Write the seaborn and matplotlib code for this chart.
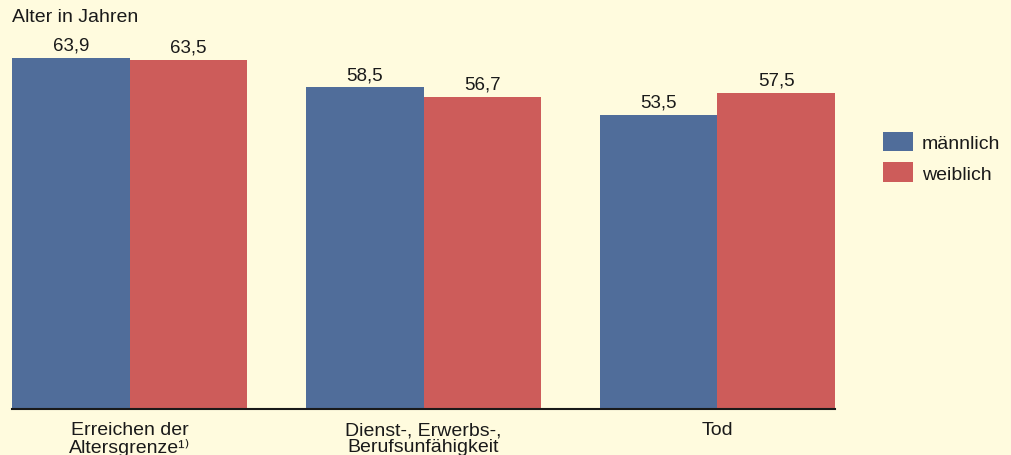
import matplotlib
matplotlib.use("Agg")
import matplotlib.pyplot as plt
import seaborn as sns
import pandas as pd
from matplotlib.patches import Patch

categories = ["Erreichen der\nAltersgrenze¹⁾", "Dienst-, Erwerbs-,\nBerufsunfähigkeit", "Tod"]
maennlich = [63.9, 58.5, 53.5]
weiblich = [63.5, 56.7, 57.5]
series = ["männlich", "weiblich"]
colors = ["#506D9A", "#CD5C5A"]
bg = "#FFFBDE"

df = pd.DataFrame({
    "Kategorie": categories * 2,
    "Geschlecht": [series[0]] * 3 + [series[1]] * 3,
    "Alter": maennlich + weiblich,
})

sns.set_theme(style="white")
plt.rcParams["font.family"] = ["Liberation Sans", "DejaVu Sans"]

FS = 14
fig = plt.figure(figsize=(10.11, 4.56), dpi=100, facecolor=bg)
W, H = 1011, 456
ymax = 70
left, right, base = 12, 835, 410
top = base - ymax * 5.5
ax = fig.add_axes([left / W, (H - base) / H, (right - left) / W, (base - top) / H])
ax.set_facecolor(bg)

sns.barplot(data=df, x="Kategorie", y="Alter", hue="Geschlecht", palette=colors,
            width=0.8, saturation=1, ax=ax, legend=False, order=categories,
            hue_order=series, linewidth=0, edgecolor="none")

ax.set_xlim(-0.4, 2.4)
ax.set_ylim(0, ymax)
for c in ax.containers:
    ax.bar_label(c, labels=[f"{v:.1f}".replace(".", ",") for v in c.datavalues],
                 padding=3, fontsize=13.5, color="#1a1a1a")

for s in ["left", "right", "top"]:
    ax.spines[s].set_visible(False)
ax.spines["bottom"].set_color("#1a1a1a")
ax.spines["bottom"].set_linewidth(1.5)
ax.spines["bottom"].set_zorder(5)
ax.set_yticks([])
ax.set_xlabel("")
ax.set_ylabel("")
ax.tick_params(axis="x", length=0, pad=9, labelsize=FS, labelcolor="#1a1a1a")
for t in ax.get_xticklabels():
    t.set_linespacing(0.95)
    t.set_verticalalignment("top")

fig.text(12 / W, 1 - 17 / H, "Alter in Jahren", fontsize=FS, color="#1a1a1a", va="center", ha="left")

handles = [Patch(facecolor=colors[i], edgecolor="none", label=series[i]) for i in range(2)]
leg = fig.legend(handles=handles, loc="upper left", bbox_to_anchor=(883 / W, 1 - 133 / H),
                 frameon=False, fontsize=FS, handlelength=1.55, handleheight=1.15,
                 handletextpad=0.46, labelspacing=0.52, borderaxespad=0, borderpad=0)
for t in leg.get_texts():
    t.set_color("#1a1a1a")

fig.savefig("out.png", dpi=100, facecolor=bg)
